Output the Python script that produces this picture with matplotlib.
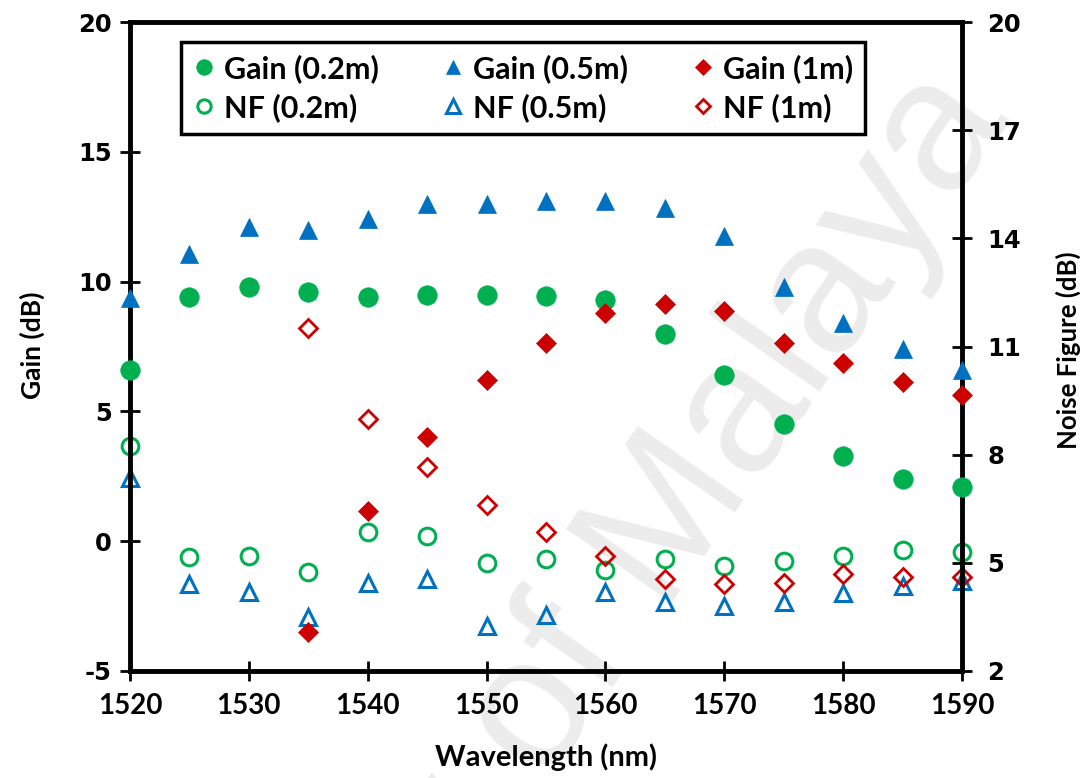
import matplotlib
matplotlib.use("Agg")
import matplotlib.pyplot as plt
from matplotlib.font_manager import FontProperties

plt.rcParams["axes.unicode_minus"] = False

# Wavelength grid (nm)
wavelength = [1520, 1525, 1530, 1535, 1540, 1545, 1550, 1555,
              1560, 1565, 1570, 1575, 1580, 1585, 1590]
wavelength_1m = [1535, 1540, 1545, 1550, 1555, 1560, 1565,
                 1570, 1575, 1580, 1585, 1590]

# Gain (dB) for three fibre lengths
gain_02 = [6.6, 9.4, 9.8, 9.6, 9.4, 9.5, 9.5, 9.45, 9.3, 8.0, 6.4, 4.5, 3.3, 2.4, 2.1]
gain_05 = [9.35, 11.05, 12.1, 12.0, 12.4, 13.0, 13.0, 13.1, 13.1, 12.85, 11.75, 9.8, 8.4, 7.4, 6.6]
gain_1 = [-3.5, 1.15, 4.0, 6.2, 7.65, 8.8, 9.15, 8.85, 7.65, 6.85, 6.15, 5.65]

# Noise figure (dB) for three fibre lengths
nf_02 = [8.25, 5.15, 5.2, 4.75, 5.85, 5.75, 5.0, 5.1, 4.8, 5.1, 4.9, 5.05, 5.2, 5.35, 5.3]
nf_05 = [7.35, 4.4, 4.2, 3.5, 4.45, 4.55, 3.25, 3.55, 4.2, 3.9, 3.8, 3.9, 4.15, 4.35, 4.5]
nf_1 = [11.5, 9.0, 7.65, 6.6, 5.85, 5.2, 4.55, 4.4, 4.45, 4.7, 4.6, 4.6]

x_ticks = [1520, 1530, 1540, 1550, 1560, 1570, 1580, 1590]
gain_ticks = [-5, 0, 5, 10, 15, 20]
nf_ticks = [2, 5, 8, 11, 14, 17, 20]

GREEN = "#00B050"
BLUE = "#0070C0"
RED = "#CC0000"
LABEL_FONT = dict(family="Lato", weight="bold")
TICK_FONT = dict(family="DejaVu Sans", weight="bold")

fig = plt.figure(figsize=(10.86, 7.78), dpi=100)
fig.patch.set_facecolor("white")

# faint diagonal watermark behind the plot
fig.text(1010 / 1086, 1 - 120 / 778, "University of Malaya", rotation=55,
         rotation_mode="anchor", ha="right", va="baseline", fontsize=135,
         family="Liberation Sans", color="#ececec", zorder=-10)

ax = fig.add_axes([130 / 1086, 1 - 671 / 778, 832 / 1086, 649 / 778])
ax2 = ax.twinx()
ax.set_zorder(ax2.get_zorder() + 1)
ax.patch.set_visible(False)
ax2.patch.set_visible(False)

common = dict(linestyle="none", clip_on=False, zorder=4)
h_g02, = ax.plot(wavelength, gain_02, marker="o", ms=14, color=GREEN,
                 mec=GREEN, mew=0.5, label="Gain (0.2m)", **common)
h_g05, = ax.plot(wavelength, gain_05, marker="^", ms=13, color=BLUE,
                 mec=BLUE, mew=0.5, label="Gain (0.5m)", **common)
h_g1, = ax.plot(wavelength_1m, gain_1, marker="D", ms=10, color=RED,
                mec=RED, mew=0.5, label="Gain (1m)", **common)

h_n02, = ax2.plot(wavelength, nf_02, marker="o", ms=12, mfc="none",
                  mec=GREEN, mew=2.2, label="NF (0.2m)", **common)
h_n05, = ax2.plot(wavelength, nf_05, marker="^", ms=12, mfc="none",
                  mec=BLUE, mew=2.2, label="NF (0.5m)", **common)
h_n1, = ax2.plot(wavelength_1m, nf_1, marker="D", ms=9, mfc="none",
                 mec=RED, mew=2.0, label="NF (1m)", **common)

ax.set_xlim(1520, 1590)
ax.set_ylim(-5, 20)
ax2.set_ylim(2, 20)
ax.set_xticks(x_ticks)
ax.set_yticks(gain_ticks)
ax2.set_yticks(nf_ticks)

for side in ["left", "right", "top", "bottom"]:
    ax.spines[side].set_linewidth(3.5)
    ax.spines[side].set_color("black")
    ax2.spines[side].set_visible(False)

ax.tick_params(axis="both", direction="inout", length=14, width=2, color="black")
ax.tick_params(axis="x", pad=9)
ax.tick_params(axis="y", pad=6)
ax2.tick_params(axis="y", direction="inout", length=14, width=2, color="black", pad=11)

for lbl in ax.get_xticklabels():
    lbl.set_fontproperties(FontProperties(size=20, **LABEL_FONT))
for lbl in ax.get_yticklabels() + ax2.get_yticklabels():
    lbl.set_fontproperties(FontProperties(size=17.5, **TICK_FONT))

ax.set_xlabel("Wavelength (nm)", fontsize=21, va="center", **LABEL_FONT)
ax.xaxis.set_label_coords(0.5, (671 - 757) / 649)
ax.set_ylabel("Gain (dB)", fontsize=19, va="center", **LABEL_FONT)
ax.yaxis.set_label_coords((32 - 130) / 832, (671 - 345) / 649)
ax2.set_ylabel("Noise Figure (dB)", fontsize=18.5, va="center", **LABEL_FONT)
ax2.yaxis.set_label_coords((1068 - 130) / 832, (671 - 350) / 649)

handles = [h_g02, h_n02, h_g05, h_n05, h_g1, h_n1]
leg = ax.legend(handles, [h.get_label() for h in handles], ncol=3,
                loc="upper left",
                bbox_to_anchor=((181 - 130) / 832, (671 - 130) / 649,
                                (865 - 181) / 832, 88 / 649),
                mode="expand", borderaxespad=0, fancybox=False,
                edgecolor="black", framealpha=1,
                prop=dict(family="Lato", weight="bold", size=22),
                handlelength=0.7, handletextpad=0.3, labelspacing=0.33,
                borderpad=0.4, markerscale=0.8)
leg.get_frame().set_linewidth(2.5)

fig.savefig("out.png", dpi=100)
